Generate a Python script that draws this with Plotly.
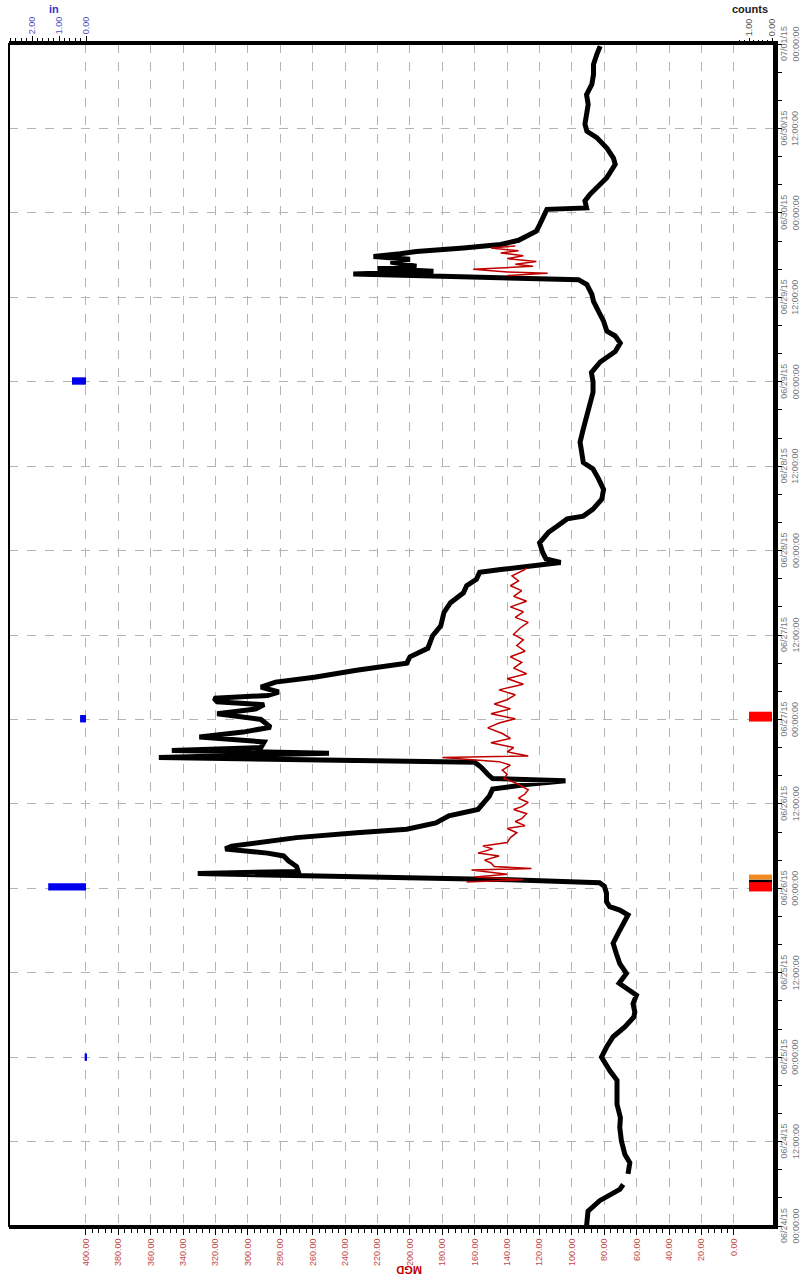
import datetime as dt
import plotly.graph_objects as go

# ---------------- data (hours after 06/24/15 00:00) ----------------
flow_hours = [0.0, 0.5, 2.1, 3.6, 4.4, 5.2, 5.9, None,
              7.4, 9.0, 10.2, 12.1, 14.0, 15.4, 17.3, 19.2, 20.7, 22.1, 24.0, 25.4, 26.9, 28.3,
              29.7, 30.4, 31.6, 32.8, 33.7, 34.5, 35.9, 37.3, 38.7, 40.2, 41.6, 43.0, 44.2, 44.9,
              45.4, 46.1, 47.3, 48.3, 48.8, 49.2, 49.7, 50.1, 50.4, 51.1, 51.9, 52.6, 53.0, 53.6,
              54.0, 54.5, 55.2, 55.9, 56.4, 57.3, 58.3, 59.2, 60.2, 61.1, 62.1, 62.8, 63.3, 63.6,
              64.2, 65.2, 65.9, 66.3, 66.6, 67.2, 67.6, 68.0, 68.8, 69.5, 70.2, 70.9, 72.0, 72.8,
              73.5, 74.1, 74.5, 75.0, 75.4, 75.9, 76.6, 77.3, 78.0, 79.0, 80.0, 80.9, 82.1, 83.9,
              85.3, 87.2, 88.6, 90.0, 91.0, 91.9, 92.9, 93.3, 93.8, 94.3, 94.8, 95.7, 97.1, 98.6,
              99.5, 100.5, 100.9, 101.9, 103.3, 104.7, 106.2, 107.6, 108.5, 109.9, 111.4, 113.3,
              115.2, 116.6, 118.5, 120.0, 121.3, 122.8, 124.3, 125.5, 126.5, 127.2, 128.6, 130.0,
              131.4, 132.4, 133.8, 134.5, 134.8, 135.1, 135.3, 135.7, 136.1, 136.4, 137.0, 137.4,
              137.8, 138.2, 138.5, 139.0, 139.5, 140.1, 140.7, 141.4, 142.3, 143.3, 144.5, 144.7,
              145.7, 146.6, 148.0, 149.0, 150.9, 151.8, 153.2, 154.7, 155.6, 156.6, 158.0, 159.4,
              160.8, 162.3, 163.7, 165.1, 166.5, 167.7]
flow_mgd = [91, 90.7, 90.1, 82.9, 76, 70.5, 68.4, None,
            65.4, 64.3, 67.4, 69.5, 70.5, 70.1, 72.2, 72.2, 72.2, 76.7, 81.8, 78.7, 74.6, 67.4,
            61.8, 61.2, 62.3, 60.2, 66.4, 70.9, 66.4, 70.5, 72.6, 74.6, 71.5, 68.4, 65.4, 70.5,
            76.7, 78.7, 78.7, 80, 83, 138, 237, 331, 269, 270, 275, 278, 288, 314,
            310, 292, 270, 233, 202, 184, 176, 158, 154, 151, 149, 127, 104, 149,
            152, 156, 160, 259, 355, 250, 347, 292, 290, 330, 303, 286, 292, 319,
            295, 290, 319, 321, 288, 281, 292, 283, 259, 233, 202, 200, 189, 186,
            181, 179, 175, 167, 165, 159, 157, 144, 128, 107, 116, 118, 120, 114.5,
            109, 103, 93, 87, 81.6, 80.5, 83.6, 87, 93, 94, 95, 93,
            91, 89, 87, 87, 88, 82.6, 73.3, 70.2, 73.3, 78.5, 80.5, 83.6,
            86.7, 87.7, 90.8, 96, 144, 181, 235, 185.5, 220, 196, 212, 200,
            222.5, 206, 196, 167, 144, 133, 128, 122, 120, 118, 115.5, 91,
            92, 89, 82.6, 78.5, 73.3, 74.4, 78.5, 84.7, 90.8, 92, 91, 90,
            91, 87.7, 86.7, 86.7, 84.7, 82.6]

red_hours = [48.9, 49.2, 49.6, 50.0, 50.6, 50.8, 51.1, 51.6, 52.0, 52.6, 53.0, 53.6, 54.0, 54.5,
             55.2, 55.9, 56.5, 56.9, 57.5, 57.9, 58.6, 59.2, 59.6, 60.2, 60.8, 61.4, 62.0, 62.5,
             63.0, 63.6, 64.2, 64.8, 65.5, 66.0, 66.6, 66.8, 67.4, 68.0, 68.7, 69.3, 70.0, 70.8,
             71.5, 72.1, 72.8, 73.5, 74.2, 74.8, 75.5, 76.2, 77.0, 77.8, 78.5, 79.3, 80.1, 80.9,
             81.7, 82.5, 83.3, 84.1, 85.0, 85.8, 86.5, 87.3, 88.0, 88.8, 89.5, 90.3, 91.0, 91.7,
             92.4, 93.2, 93.5, None,
             135.1, 135.4, 135.6, 136.0, 136.4, 136.7, 137.1, 137.5, 137.9, 138.3, 138.6, 139.0,
             139.3]
red_mgd = [165, 130, 160, 140, 162, 125, 148, 150, 154, 145, 158, 149, 155, 140,
           138, 134, 140, 129, 135, 131, 128, 136, 131, 127, 133, 129, 127, 131,
           135, 142, 140, 143, 138, 145, 180, 127, 140, 136, 150, 138, 143, 152,
           145, 135, 150, 138, 148, 140, 135, 145, 130, 140, 128, 136, 131, 138,
           129, 134, 130, 136, 132, 127, 135, 130, 138, 128, 136, 131, 138, 133,
           137, 130, 128, None,
           140, 115, 140, 161, 124, 135, 122, 140, 130, 144, 133, 150,
           135]

rain_hours = [24.0, 48.2, 72.1, 120.1]
rain_in = [0.05, 1.4, 0.22, 0.52]

count_red_hours = [48.25, 72.4]
count_red = [1.0, 1.0]
count_black_hours = [49.05]
count_black = [1.0]
count_orange_hours = [49.6]
count_orange = [1.0]

mgd_ticks = list(range(0, 401, 20))
rain_ticks = [0, 1, 2]
count_ticks = [0, 1]
time_tick_hours = list(range(0, 169, 12))

# ---------------- helpers ----------------
base = dt.datetime(2015, 6, 24)


def to_time(hours):
    return [None if h is None else base + dt.timedelta(hours=h) for h in hours]


HOUR_MS = 3600 * 1000
FONT = "Liberation Sans, Arial, sans-serif"

# pixel geometry of the plot area (figure pixels)
L, R, T, B = 9, 774, 44, 1226


def px_x(p):
    return (p - L) / (R - L)


def px_y(p):
    return (B - p) / (B - T)


fig = go.Figure()

fig.add_trace(go.Scatter(x=flow_mgd, y=to_time(flow_hours), mode="lines",
                         line=dict(color="black", width=5), connectgaps=False,
                         xaxis="x", yaxis="y"))
fig.add_trace(go.Scatter(x=red_mgd, y=to_time(red_hours), mode="lines",
                         line=dict(color="#c00000", width=1.5), connectgaps=False,
                         xaxis="x", yaxis="y"))

fig.add_trace(go.Bar(x=rain_in, y=to_time(rain_hours), orientation="h",
                     width=[1.05 * HOUR_MS] * len(rain_hours),
                     marker=dict(color="#0000ee", line=dict(width=0)),
                     xaxis="x2", yaxis="y"))

fig.add_trace(go.Bar(x=count_red, y=to_time(count_red_hours), orientation="h",
                     width=[1.4 * HOUR_MS] * len(count_red_hours),
                     marker=dict(color="#ff0000", line=dict(width=0)),
                     xaxis="x3", yaxis="y"))
fig.add_trace(go.Bar(x=count_black, y=to_time(count_black_hours), orientation="h",
                     width=[0.35 * HOUR_MS],
                     marker=dict(color="#000000", line=dict(width=0)),
                     xaxis="x3", yaxis="y"))
fig.add_trace(go.Bar(x=count_orange, y=to_time(count_orange_hours), orientation="h",
                     width=[0.7 * HOUR_MS],
                     marker=dict(color="#f08a1c", line=dict(width=0)),
                     xaxis="x3", yaxis="y"))

time_ticks = to_time(time_tick_hours)
date_text = [t.strftime("%m/%d/%y") for t in time_ticks]
clock_text = [t.strftime("%H:%M:%S") for t in time_ticks]

annotations = [
    dict(text="<b>in</b>", xref="paper", yref="paper", x=px_x(47), y=px_y(1), yanchor="top",
         showarrow=False, font=dict(size=11, color="#3333cc", family=FONT)),
    dict(text="<b>counts</b>", xref="paper", yref="paper", x=px_x(770), y=px_y(1), yanchor="top",
         showarrow=False, font=dict(size=11, color="#222222", family=FONT)),
    dict(text="<b>MGD</b>", xref="paper", yref="paper", x=px_x(409), y=px_y(1278),
         showarrow=False, textangle=180, font=dict(size=11, color="#c00000", family=FONT)),
]
for t, d_txt, c_txt in zip(time_ticks, date_text, clock_text):
    annotations.append(dict(text=d_txt, xref="paper", yref="y", x=px_x(784), y=t,
                            xanchor="center", yanchor="middle", showarrow=False,
                            textangle=-90, font=dict(size=9, color="#777777", family=FONT)))
    annotations.append(dict(text=c_txt, xref="paper", yref="y", x=px_x(795.5), y=t,
                            xanchor="center", yanchor="middle", showarrow=False,
                            textangle=-90, font=dict(size=9, color="#777777", family=FONT)))

fig.update_layout(
    width=804, height=1284,
    margin=dict(l=L, r=804 - R, t=T, b=1284 - B, autoexpand=False),
    plot_bgcolor="white", paper_bgcolor="white",
    showlegend=False, barmode="overlay",
    font=dict(family=FONT, size=9),
    xaxis=dict(
        range=[447.5, -24.7], side="bottom", anchor="y", automargin=False,
        tickmode="array", tickvals=mgd_ticks, ticktext=[f"{v:.2f}" for v in mgd_ticks],
        tickangle=-90, ticks="outside", ticklen=6, tickwidth=1, tickcolor="black",
        tickfont=dict(size=9, color="#c24848", family=FONT),
        showgrid=True, gridcolor="#b4b4b4", griddash="dash", gridwidth=1,
        showline=True, linewidth=3, linecolor="black", zeroline=False,
        minor=dict(tickmode="array", tickvals=[v for v in range(0, 401, 4)],
                   ticks="outside", ticklen=4, tickwidth=1, tickcolor="black", showgrid=False),
    ),
    xaxis2=dict(
        overlaying="x", side="top", anchor="y", automargin=False,
        range=[2.852, -25.48],
        tickmode="array", tickvals=rain_ticks, ticktext=[f"{v:.2f}" for v in rain_ticks],
        tickangle=-90, ticks="outside", ticklen=5, tickwidth=1, tickcolor="black",
        tickfont=dict(size=9, color="#5050c0", family=FONT),
        showgrid=False, zeroline=False, showline=True, linewidth=3, linecolor="black",
        minor=dict(tickmode="array", tickvals=[i * 0.2 for i in range(0, 15)],
                   ticks="outside", ticklen=3, tickwidth=1, tickcolor="black", showgrid=False),
    ),
    xaxis3=dict(
        overlaying="x", side="top", anchor="y", automargin=False,
        range=[33.17, -0.087],
        tickmode="array", tickvals=count_ticks, ticktext=[f"{v:.2f}" for v in count_ticks],
        tickangle=-90, ticks="outside", ticklen=5, tickwidth=1, tickcolor="black",
        tickfont=dict(size=9, color="#555555", family=FONT),
        showgrid=False, zeroline=False, showline=False,
        minor=dict(tickmode="array", tickvals=[i * 0.2 for i in range(0, 8)],
                   ticks="outside", ticklen=3, tickwidth=1, tickcolor="black", showgrid=False),
    ),
    yaxis=dict(
        type="date", side="right", anchor="x", automargin=False,
        range=[base, base + dt.timedelta(hours=168)],
        tickmode="array", tickvals=time_ticks, showticklabels=False,
        ticks="outside", ticklen=4, tickwidth=1, tickcolor="black",
        showgrid=True, gridcolor="#b4b4b4", griddash="dash", gridwidth=1,
        showline=True, linewidth=4, linecolor="black", zeroline=False,
        minor=dict(tickmode="linear", tick0=base, dtick=4 * HOUR_MS,
                   ticks="outside", ticklen=4, tickwidth=1, tickcolor="black", showgrid=False),
    ),
    shapes=[dict(type="rect", xref="paper", yref="paper", x0=0, x1=1, y0=0, y1=1,
                 line=dict(color="black", width=2), fillcolor="rgba(0,0,0,0)", layer="above")],
    annotations=annotations,
)

fig.write_html("out.html", config={"displayModeBar": False},
               post_script="document.body.style.margin='0px';document.body.style.overflow='hidden';")
